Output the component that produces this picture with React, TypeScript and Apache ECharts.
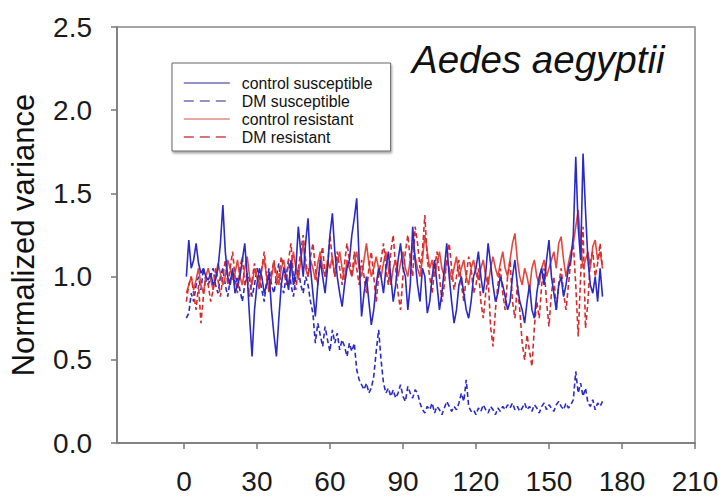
import React, { useEffect, useRef } from "react";
import * as echarts from "echarts";

const seriesNames = ["control susceptible", "DM susceptible", "control resistant", "DM resistant"];

const xTicks = [0, 30, 60, 90, 120, 150, 180, 210];
const yTicks = [0, 0.5, 1.0, 1.5, 2.0, 2.5];

const controlSusceptible = [
  1.00, 1.22, 1.05, 1.10, 1.20, 1.08, 1.02, 1.05, 1.00, 0.98,
  1.02, 0.95, 0.98, 1.05, 1.20, 1.43, 1.15, 1.00, 0.95, 1.05,
  0.90, 0.95, 1.00, 1.10, 1.20, 1.00, 0.75, 0.52, 0.80, 0.95,
  1.05, 1.00, 0.90, 0.95, 1.02, 0.80, 0.65, 0.52, 0.75, 0.95,
  1.05, 1.00, 0.92, 1.10, 0.95, 1.05, 1.30, 1.15, 1.00, 1.20,
  1.35, 1.05, 0.90, 0.76, 0.95, 1.10, 1.00, 0.90, 1.05, 1.25,
  1.38, 1.15, 1.00, 0.90, 0.82, 0.95, 1.05, 1.10, 1.25, 1.35,
  1.47, 1.10, 0.76, 0.90, 1.00, 0.85, 0.71, 0.80, 0.95, 1.05,
  1.00, 0.90, 1.05, 1.15, 1.00, 0.85, 0.95, 1.10, 1.20, 1.05,
  1.00, 0.80, 0.95, 1.30, 1.10, 0.95, 0.85, 1.05, 1.00, 0.78,
  0.85, 1.00, 1.10, 0.95, 0.80, 0.90, 1.05, 1.20, 1.00, 0.85,
  0.72, 0.80, 0.95, 1.00, 0.90, 0.80, 0.75, 0.85, 1.00, 1.05,
  1.15, 1.00, 0.90, 1.02, 1.20, 1.08, 0.95, 0.85, 0.90, 1.00,
  0.95, 0.88, 0.80, 0.85, 1.00, 1.10, 0.95, 0.85, 0.80, 0.72,
  0.85, 0.95, 0.80, 0.75, 0.90, 1.00, 1.05, 0.95, 1.10, 1.22,
  1.00, 0.90, 0.80, 0.95, 1.00, 0.88, 0.95, 1.05, 1.10, 1.25,
  1.72, 1.30, 1.10, 1.74, 1.40, 1.10, 0.95, 0.90, 1.00, 0.85, 1.05, 0.88,
];

const dmSusceptible = [
  0.75, 0.78, 0.90, 0.85, 0.95, 1.00, 0.92, 1.05, 0.98, 0.95,
  1.00, 1.05, 0.95, 0.90, 1.00, 1.05, 0.95, 0.88, 0.98, 1.02,
  0.95, 1.00, 0.92, 0.85, 0.95, 1.02, 0.98, 0.88, 0.95, 1.05,
  1.00, 0.92, 0.85, 0.98, 1.05, 0.95, 0.90, 1.00, 1.08, 0.95,
  0.90, 1.00, 1.10, 0.95, 0.88, 1.00, 1.05, 0.95, 0.90, 1.00,
  0.95, 0.85, 0.78, 0.60, 0.72, 0.65, 0.58, 0.70, 0.62, 0.55,
  0.68, 0.60, 0.66, 0.56, 0.62, 0.58, 0.52, 0.60, 0.55, 0.60,
  0.44, 0.38, 0.35, 0.32, 0.36, 0.30, 0.33, 0.40, 0.55, 0.68,
  0.50, 0.36, 0.30, 0.33, 0.28, 0.32, 0.27, 0.30, 0.35, 0.28,
  0.25, 0.34, 0.30, 0.27, 0.32, 0.30, 0.24, 0.20, 0.18, 0.22,
  0.20, 0.24, 0.18, 0.22, 0.20, 0.17, 0.21, 0.25, 0.22, 0.19,
  0.22, 0.20, 0.24, 0.30, 0.25, 0.38, 0.22, 0.19, 0.20, 0.17,
  0.21, 0.19, 0.23, 0.20, 0.18, 0.22, 0.20, 0.17, 0.21, 0.19,
  0.22, 0.20, 0.23, 0.21, 0.24, 0.20, 0.22, 0.19, 0.21, 0.24,
  0.20, 0.22, 0.19, 0.23, 0.21, 0.18, 0.22, 0.24, 0.20, 0.23,
  0.21, 0.19, 0.23, 0.25, 0.22, 0.20, 0.24, 0.21, 0.23, 0.26,
  0.43, 0.30, 0.36, 0.28, 0.33, 0.24, 0.22, 0.26, 0.20, 0.24, 0.22, 0.25,
];

const controlResistant = [
  0.90, 0.95, 1.00, 0.92, 0.98, 1.05, 0.95, 0.90, 1.00, 1.05,
  0.98, 0.92, 1.00, 1.08, 1.02, 0.95, 1.00, 1.10, 1.05, 0.98,
  1.02, 1.10, 1.00, 0.95, 1.05, 1.12, 1.00, 0.95, 1.05, 1.00,
  0.95, 1.05, 1.10, 1.00, 0.92, 1.00, 1.08, 1.02, 0.95, 1.05,
  1.10, 1.00, 0.95, 1.05, 1.15, 1.05, 0.98, 1.10, 1.20, 1.05,
  1.00, 1.10, 1.05, 0.98, 1.08, 1.15, 1.05, 1.00, 1.10, 1.05,
  1.12, 1.00, 1.08, 1.15, 1.05, 0.98, 1.10, 1.05, 1.00, 1.08,
  1.15, 1.05, 1.00, 1.10, 1.20, 1.08, 1.00, 1.05, 1.12, 1.05,
  1.00, 1.08, 1.15, 1.05, 0.95, 1.05, 1.10, 1.00, 1.08, 1.15,
  1.05, 1.00, 1.10, 1.20, 1.12, 1.05, 1.00, 1.10, 1.25, 1.15,
  1.05, 1.10, 1.00, 1.08, 1.15, 1.05, 1.00, 1.10, 1.05, 0.98,
  1.05, 1.12, 1.00, 1.05, 1.10, 1.00, 0.95, 1.05, 1.10, 1.02,
  0.98, 1.05, 1.10, 1.00, 0.95, 1.05, 1.12, 1.05, 1.00, 1.08,
  1.15, 1.05, 1.00, 1.10, 1.20, 1.26, 1.10, 1.00, 0.95, 1.05,
  1.00, 0.92, 1.05, 1.10, 1.00, 0.95, 1.05, 1.10, 1.00, 1.05,
  1.10, 1.15, 1.05, 1.20, 1.24, 1.10, 1.00, 1.08, 1.15, 1.20,
  1.30, 1.40, 1.20, 1.05, 1.10, 1.15, 1.05, 1.18, 1.22, 1.10, 1.15, 1.05,
];

const dmResistant = [
  0.85, 0.95, 1.00, 0.90, 0.80, 0.95, 0.72, 0.88, 1.00, 0.95,
  0.85, 0.92, 1.05, 0.98, 0.88, 1.00, 1.10, 0.95, 1.05, 1.15,
  1.00, 0.90, 1.05, 1.12, 0.95, 1.00, 0.88, 0.98, 1.08, 1.00,
  0.92, 1.05, 1.15, 1.00, 0.90, 1.02, 1.10, 0.95, 1.00, 1.12,
  1.05, 0.95, 1.10, 1.20, 1.00, 0.92, 1.05, 1.15, 1.25, 1.10,
  1.00, 1.12, 1.20, 1.05, 0.95, 1.10, 1.18, 1.00, 1.05, 1.25,
  1.10, 1.00, 1.15, 1.05, 0.95, 1.08, 1.20, 1.10, 1.00, 1.15,
  1.05, 0.95, 1.10, 1.00, 0.90, 1.05, 1.15, 1.00, 0.85, 1.00,
  1.10, 1.20, 1.05, 0.95, 1.15, 1.25, 1.05, 0.90, 0.80, 1.00,
  1.15, 1.25, 1.10, 1.00, 1.30, 1.20, 1.05, 1.15, 1.37, 1.10,
  1.00, 0.90, 1.05, 1.15, 1.00, 0.85, 0.95, 1.10, 1.20, 1.05,
  0.92, 1.00, 1.10, 0.95, 0.85, 1.00, 1.12, 1.05, 0.90, 0.95,
  1.05, 0.85, 0.75, 0.90, 1.00, 0.70, 0.58, 0.80, 0.95, 1.05,
  0.90, 0.80, 1.00, 1.10, 0.85, 0.75, 0.95, 0.80, 0.60, 0.50,
  0.65, 0.55, 0.46, 0.70, 0.85, 0.75, 0.95, 1.05, 0.85, 0.70,
  0.90, 1.00, 0.80, 0.95, 1.05, 0.90, 0.80, 0.95, 1.10, 1.20,
  0.95, 0.64, 1.00, 1.30, 0.69, 0.85, 1.10, 1.15, 1.00, 1.08, 1.20, 1.05,
];

const FONT = "'Liberation Sans', Arial, sans-serif";
const BLUE = "#2a2ac4";
const RED_SOLID = "#e4473d";
const RED_DASH = "#d42c2c";

function toPairs(values: number[]) {
  // sample number (1-based) against value
  return values.map((v, i) => [i + 1, v]);
}

export default function App() {
  const ref = useRef<HTMLDivElement>(null);

  useEffect(() => {
    if (!ref.current) return;
    const chart = echarts.init(ref.current, undefined, { renderer: "svg" });
    const colors = [BLUE, BLUE, RED_SOLID, RED_DASH];
    const types: any[] = ["solid", [5, 3], "solid", [5, 3]];
    const legendTypes: any[] = ["solid", [10, 6], "solid", [10, 6]];
    const dataSets = [controlSusceptible, dmSusceptible, controlResistant, dmResistant];
    const legendColors = ["#6f6fb8", "#6f6fb8", "#e08a85", "#c84848"];

    chart.setOption({
      animation: false,
      backgroundColor: "#ffffff",
      textStyle: { fontFamily: FONT },
      title: {
        text: "Aedes aegyptii",
        left: 412,
        top: 40,
        padding: 0,
        textStyle: {
          fontFamily: FONT,
          fontStyle: "italic",
          fontWeight: "normal",
          fontSize: 38.5,
          color: "#111",
        },
      },
      legend: {
        left: 172,
        top: 63,
        orient: "vertical",
        padding: [12, 18, 6, 11],
        itemWidth: 46,
        itemHeight: 14,
        itemGap: 2,
        backgroundColor: "#ffffff",
        borderColor: "#666",
        borderWidth: 1,
        shadowColor: "rgba(0,0,0,0.35)",
        shadowBlur: 2,
        shadowOffsetX: 1,
        shadowOffsetY: 2,
        itemStyle: { opacity: 0 },
        textStyle: {
          fontFamily: FONT,
          fontSize: 15.8,
          color: "#111",
          padding: [0, 0, 0, 7],
        },
        data: seriesNames.map((n, i) => ({
          name: n,
          itemStyle: { opacity: 0 },
          lineStyle: { color: legendColors[i], width: 1.6, type: legendTypes[i] },
        })),
      },
      grid: {
        left: 115,
        top: 27,
        right: 31,
        bottom: 58,
        show: true,
        borderColor: "#888",
        borderWidth: 1.5,
        backgroundColor: "transparent",
      },
      xAxis: {
        type: "value",
        min: -27.5,
        max: 210,
        axisLine: { show: true, onZero: false, lineStyle: { color: "#777", width: 1.5 } },
        axisTick: {
          show: true,
          inside: false,
          length: 6,
          customValues: xTicks,
          lineStyle: { color: "#777", width: 1.5 },
        },
        axisLabel: {
          customValues: xTicks,
          margin: 24,
          fontSize: 28,
          color: "#1a1a1a",
          fontFamily: FONT,
        },
        splitLine: { show: false },
      },
      yAxis: {
        type: "value",
        min: 0,
        max: 2.5,
        interval: 0.5,
        name: "Normalized variance",
        nameLocation: "middle",
        nameGap: 78,
        nameTextStyle: { fontSize: 31, color: "#111", fontFamily: FONT },
        axisLine: { show: true, onZero: false, lineStyle: { color: "#777", width: 1.5 } },
        axisTick: { show: true, inside: false, length: 6, lineStyle: { color: "#777", width: 1.5 } },
        axisLabel: {
          margin: 25,
          fontSize: 28,
          color: "#1a1a1a",
          fontFamily: FONT,
          formatter: (v: number) => (yTicks.includes(v) ? v.toFixed(1) : ""),
        },
        splitLine: { show: false },
      },
      series: seriesNames.map((n, i) => ({
        name: n,
        type: "line",
        symbol: "none",
        data: toPairs(dataSets[i]),
        lineStyle: { color: colors[i], width: 1.6, type: types[i] },
        itemStyle: { color: colors[i] },
        z: i === 0 ? 5 : 3,
      })),
    });

    return () => chart.dispose();
  }, []);

  return (
    <div
      ref={ref}
      style={{ position: "fixed", left: 0, top: 0, width: 726, height: 501 }}
    />
  );
}
